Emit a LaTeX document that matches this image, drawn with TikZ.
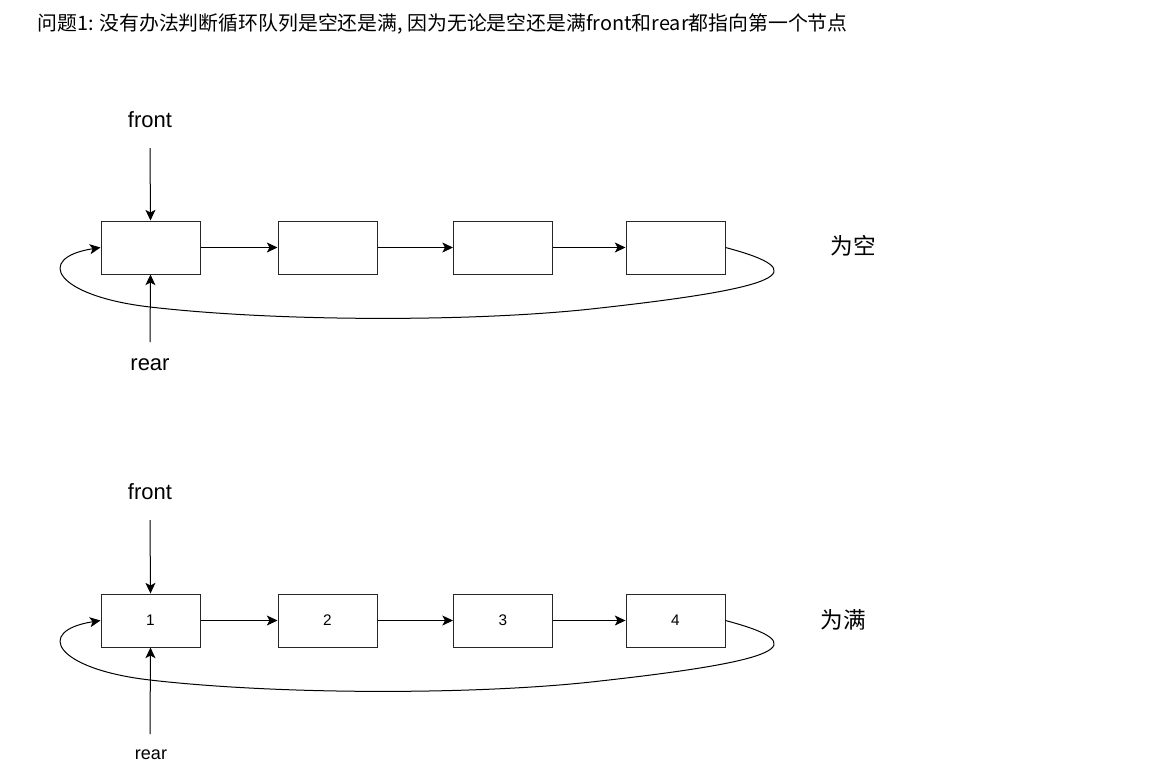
\documentclass[tikz,border=0pt]{standalone}
\usepackage{fontspec}
\setmainfont{Liberation Sans}
\newfontfamily\cjk{Noto Sans CJK SC}
\usetikzlibrary{arrows.meta}
\begin{document}
\begin{tikzpicture}[x=0.75pt,y=-0.75pt,
  qbox/.style={draw=black!85,line width=0.75pt,fill=white,minimum width=74.25pt,minimum height=39.75pt,inner sep=0pt,font=\fontsize{11.5}{13}\selectfont},
  arr/.style={line width=0.75pt,-{Stealth[length=8pt,width=7.5pt,inset=2pt]}},
  ptr/.style={font=\fontsize{16.5}{18}\selectfont,inner sep=0pt},
  state/.style={font=\cjk\fontsize{17}{19}\selectfont,inner sep=0pt}]
\useasboundingbox (0,0) rectangle (1176,783);
\node[anchor=west,inner sep=0pt,font=\cjk\fontsize{14.9}{17}\selectfont] (title) at (37,24) {问题1: 没有办法判断循环队列是空还是满, 因为无论是空还是满front和rear都指向第一个节点};

% top row: empty
\node[qbox] (a1) at (150.5,247.5) {};
\node[qbox] (a2) at (327.5,247.5) {};
\node[qbox] (a3) at (503,247.5) {};
\node[qbox] (a4) at (675.5,247.5) {};
\draw[arr] (a1) -- (a2);
\draw[arr] (a2) -- (a3);
\draw[arr] (a3) -- (a4);
\node[ptr] (af) at (150,120) {front};
\node[ptr] (ar) at (150,365) {rear};
\coordinate (afs) at (150,148);
\coordinate (ars) at (150,342);
\draw[arr] (afs) -- (a1.north);
\draw[arr] (ars) -- (a1.south);
\draw[arr] (a4.east) .. controls (818,272) and (780,288) .. (600,308)
   .. controls (480,322) and (280,322) .. (150,307)
   .. controls (55,296) and (34,258) .. (a1.west);
\node[state] (aempty) at (853,246) {为空};

% bottom row: full
\node[qbox] (b1) at (150.5,620.5) {1};
\node[qbox] (b2) at (327.5,620.5) {2};
\node[qbox] (b3) at (503,620.5) {3};
\node[qbox] (b4) at (675.5,620.5) {4};
\draw[arr] (b1) -- (b2);
\draw[arr] (b2) -- (b3);
\draw[arr] (b3) -- (b4);
\node[ptr] (bf) at (150,492) {front};
\node[ptr,font=\fontsize{13.5}{15}\selectfont] (br) at (151,755) {rear};
\coordinate (bfs) at (150,520);
\coordinate (brs) at (150,734);
\draw[arr] (bfs) -- (b1.north);
\draw[arr] (brs) -- (b1.south);
\draw[arr] (b4.east) .. controls (818,645) and (780,661) .. (600,681)
   .. controls (480,695) and (280,695) .. (150,680)
   .. controls (55,669) and (34,631) .. (b1.west);
\node[state] (bfull) at (843,620) {为满};
\end{tikzpicture}
\end{document}
